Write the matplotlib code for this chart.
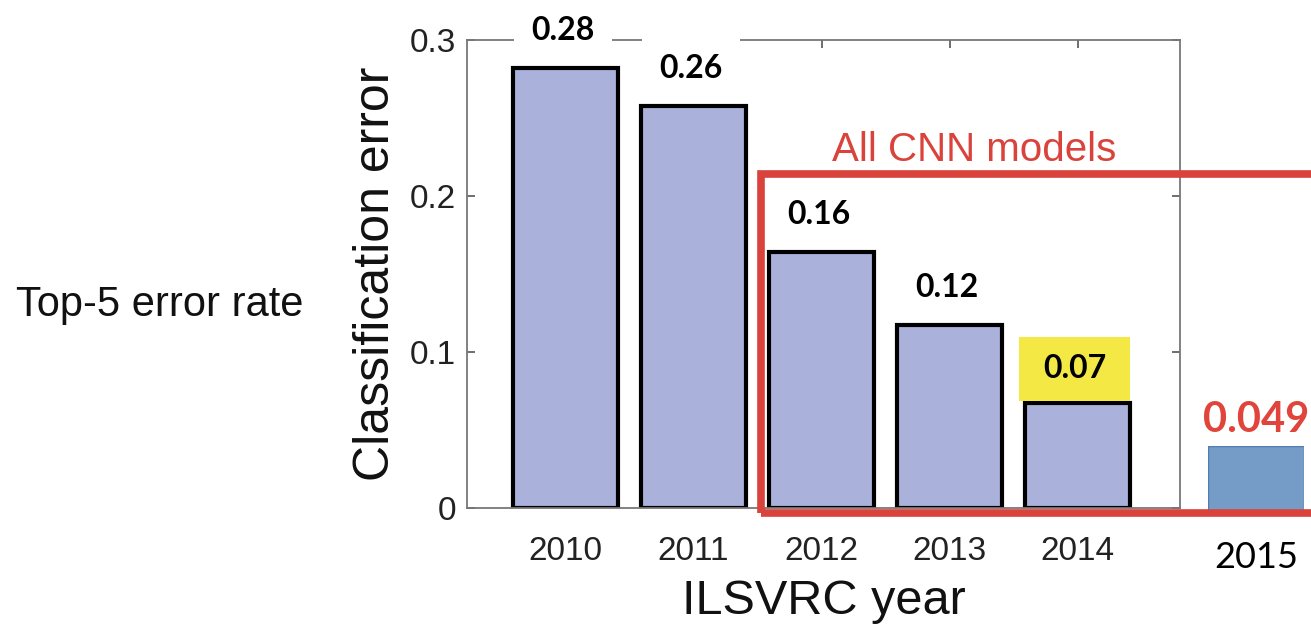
import matplotlib
matplotlib.use("Agg")
import matplotlib.pyplot as plt
from matplotlib.patches import Rectangle

# data
years = [2010, 2011, 2012, 2013, 2014]
errors = [0.282, 0.258, 0.164, 0.117, 0.067]
year_new = 2015
error_new = 0.049

plt.rcParams['font.family'] = ['Liberation Sans', 'DejaVu Sans']

W, H = 1311, 626
fig = plt.figure(figsize=(W / 100, H / 100), dpi=100)

def px(x0, y0, x1, y1):
    # pixel box (top-left origin) -> figure fraction
    return [x0 / W, 1 - y1 / H, (x1 - x0) / W, (y1 - y0) / H]

ax = fig.add_axes(px(467, 40, 1180, 508))
ax.bar(years, errors, width=0.82, color='#aab1da', edgecolor='black', linewidth=3, zorder=2)
ax.set_xlim(2009.23, 2014.80)
ax.set_ylim(0, 0.3)
ax.set_xticks(years)
ax.set_yticks([0, 0.1, 0.2, 0.3])
ax.set_yticklabels(['0', '0.1', '0.2', '0.3'])
ax.tick_params(direction='in', length=6, width=1.2, color='#555555', labelsize=24,
               labelcolor='#222222', top=True, right=True)
ax.tick_params(axis='x', pad=20)
ax.tick_params(axis='y', pad=8)
for s in ax.spines.values():
    s.set_color('#777777')
    s.set_linewidth(1.3)
ax.set_ylabel('Classification error', fontsize=36, labelpad=8, color='#111111')
ax.set_xlabel('ILSVRC year', fontsize=35, labelpad=9, color='#111111')

for x, v in zip(years, errors):
    if x == 2014:
        box = dict(boxstyle='square,pad=0.75', fc='#f4e844', ec='none', mutation_aspect=0.72)
        dy = 25
    else:
        box = dict(boxstyle='square,pad=0.55', fc='white', ec='none')
        dy = 27
    ax.annotate(f'{v:.2f}', (x, v), xytext=(-2, dy), textcoords='offset points',
                ha='center', va='center', fontsize=23, fontweight='bold',
                family=['Lato', 'DejaVu Sans'], color='black', bbox=box,
                zorder=5, annotation_clip=False)

# 2015 bar, drawn on its own scale
ax2 = fig.add_axes(px(1208, 446, 1304, 513))
ax2.bar([year_new], [error_new], width=1.0, color='#749cc6', edgecolor='#4d7db3', linewidth=1)
ax2.set_xlim(year_new - 0.5, year_new + 0.5)
ax2.set_ylim(0, error_new)
ax2.set_xticks([year_new])
ax2.set_yticks([])
ax2.tick_params(length=0, labelsize=26, pad=20)
for lab in ax2.get_xticklabels():
    lab.set_family(['Lato', 'DejaVu Sans'])
for s in ax2.spines.values():
    s.set_visible(False)
ax2.patch.set_alpha(0)
ax2.annotate(f'{error_new:.3f}', (year_new, error_new), xytext=(0, 19), textcoords='offset points',
             ha='center', va='center', fontsize=30, fontweight='bold',
             family=['Lato', 'DejaVu Sans'], color='#e0443b', annotation_clip=False)

# red box around the CNN years
fig.patches.append(Rectangle((761 / W, 1 - 513 / H), (1330 - 761) / W, (513 - 173.5) / H,
                             transform=fig.transFigure, fill=False, ec='#d9433b', lw=5.5, zorder=10))
fig.text(974 / W, 1 - 150 / H, 'All CNN models', color='#d9433b', fontsize=29,
         ha='center', va='center')

fig.text(160 / W, 1 - 305 / H, 'Top-5 error rate', color='#111111', fontsize=30,
         ha='center', va='center')

fig.savefig('out.png', dpi=100)
